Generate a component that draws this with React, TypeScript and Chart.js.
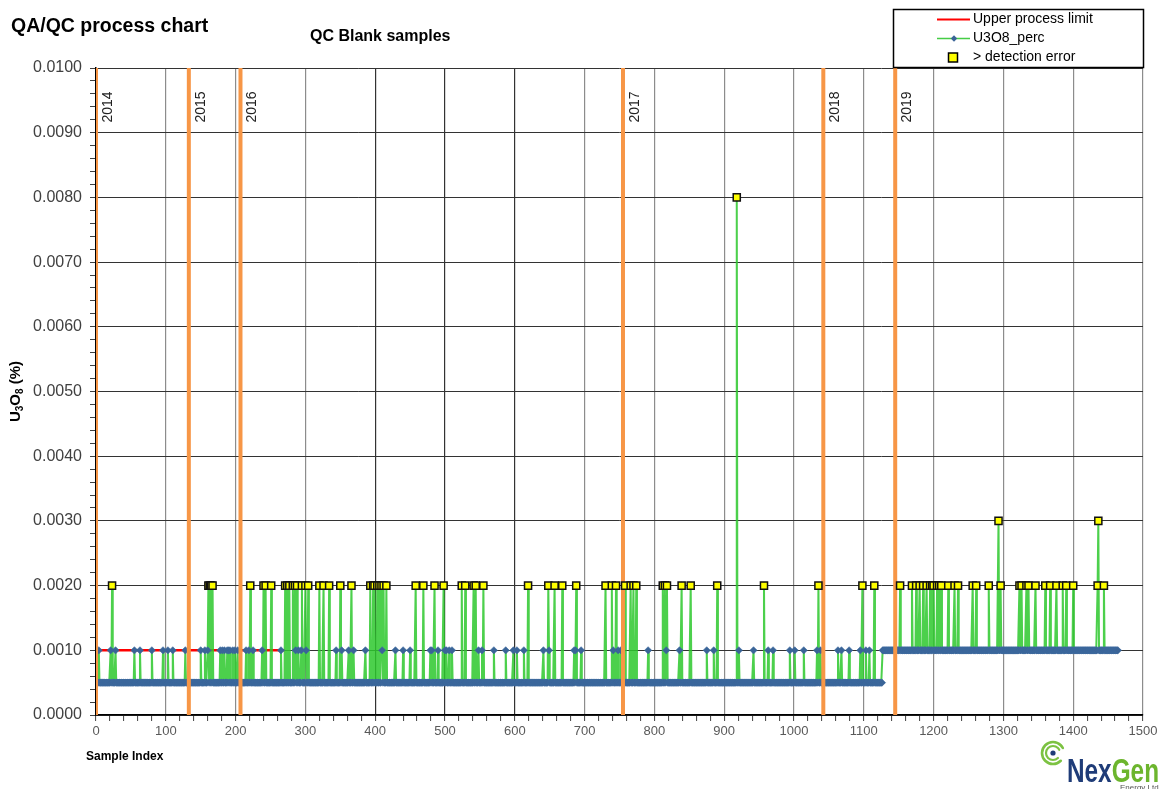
import React, { useEffect, useRef } from 'react';
import { Chart, registerables } from 'chart.js';

Chart.register(...registerables);

// ---------- data ----------
const sampleCount = 1465;
const baselineStartIdx = [0, 1127];
const baselineValues = [0.0005, 0.001];

const idxAt0010 = [
  4, 21, 28, 55, 63, 80, 96, 103, 110, 128, 150, 156, 160, 165, 178, 181, 184, 188, 190, 192, 196, 199, 203,
  215, 219, 225, 238, 265, 277, 286, 290, 294, 301, 344, 352, 362, 369, 386, 410, 429, 440, 450, 479, 481,
  490, 500, 502, 506, 510, 544, 548, 553, 570, 587, 598, 603, 613, 641, 649, 685, 687, 695, 741, 748, 752,
  791, 817, 836, 875, 885, 921, 942, 963, 970, 994, 1001, 1014, 1033, 1038, 1063, 1068, 1079, 1095, 1103, 1108,
];

const idxAt0020 = [
  23, 161, 163, 165, 167, 221, 240, 243, 251, 271, 274, 277, 282, 285, 288, 295, 300, 304, 320, 326, 334, 350,
  366, 393, 397, 399, 403, 406, 409, 412, 416, 458, 469, 485, 498, 524, 529, 541, 544, 555, 619, 648, 657,
  668, 688, 730, 739, 745, 758, 766, 770, 774, 812, 815, 818, 839, 852, 890, 957, 1035, 1098, 1115, 1152,
  1169, 1175, 1180, 1185, 1190, 1195, 1198, 1200, 1205, 1208, 1211, 1221, 1230, 1235, 1256, 1261, 1279, 1296,
  1323, 1326, 1333, 1336, 1346, 1360, 1367, 1376, 1385, 1390, 1400, 1435, 1444,
];
const idxAt0030 = [1293, 1436];
const idxAt0080 = [918];

const limitValue = 0.001;
const limitRange = [2, 270];

const yearLabels = ['2014', '2015', '2016', '2017', '2018', '2019'];
const yearStartIdx = [0, 133, 207, 755, 1042, 1145];

const xMin = 0;
const xMax = 1500;
const yMin = 0;
const yMax = 0.01;

// ---------- build series ----------
function buildSeries() {
  const vals: number[] = [];
  for (let i = 0; i < sampleCount; i++) {
    let b = baselineValues[0];
    for (let k = 0; k < baselineStartIdx.length; k++) if (i >= baselineStartIdx[k]) b = baselineValues[k];
    vals.push(b);
  }
  idxAt0010.forEach((i) => (vals[i] = 0.001));
  idxAt0020.forEach((i) => (vals[i] = 0.002));
  idxAt0030.forEach((i) => (vals[i] = 0.003));
  idxAt0080.forEach((i) => (vals[i] = 0.008));
  return vals.map((y, x) => ({ x, y }));
}

const FONT = '"Liberation Sans", Arial, sans-serif';

const decorPlugin = {
  id: 'decor',
  afterDraw(chart: any) {
    const ctx = chart.ctx as CanvasRenderingContext2D;
    const xs = chart.scales.x;
    const area = chart.chartArea;
    ctx.save();

    // titles
    ctx.fillStyle = '#000';
    ctx.textAlign = 'left';
    ctx.textBaseline = 'alphabetic';
    ctx.font = `bold 19.5px ${FONT}`;
    ctx.fillText('QA/QC process chart', 11, 31.5);
    ctx.font = `bold 16px ${FONT}`;
    ctx.fillText('QC Blank samples', 310, 41);

    // x title
    ctx.font = `bold 12px ${FONT}`;
    ctx.fillText('Sample Index', 86, 760);

    // y title with subscripts (rotated)
    ctx.save();
    ctx.translate(20, (area.top + area.bottom) / 2);
    ctx.rotate(-Math.PI / 2);
    const parts: [string, boolean][] = [['U', false], ['3', true], ['O', false], ['8', true], [' (%)', false]];
    const big = `bold 15px ${FONT}`;
    const small = `bold 10px ${FONT}`;
    let total = 0;
    parts.forEach(([t, s]) => {
      ctx.font = s ? small : big;
      total += ctx.measureText(t).width;
    });
    let px = -total / 2;
    parts.forEach(([t, s]) => {
      ctx.font = s ? small : big;
      ctx.fillText(t, px, s ? 3 : 0);
      px += ctx.measureText(t).width;
    });
    ctx.restore();

    // year labels
    ctx.font = `14px ${FONT}`;
    ctx.fillStyle = '#222';
    yearStartIdx.forEach((v, i) => {
      const x = xs.getPixelForValue(v);
      ctx.save();
      ctx.translate(x + 12, 107);
      ctx.rotate(-Math.PI / 2);
      ctx.textAlign = 'center';
      ctx.textBaseline = 'middle';
      ctx.fillText(yearLabels[i], 0, 0);
      ctx.restore();
    });

    // legend
    const lx = 893.5, ly = 9.5, lw = 250, lh = 58;
    ctx.fillStyle = '#fff';
    ctx.fillRect(lx, ly, lw, lh);
    ctx.strokeStyle = '#000';
    ctx.lineWidth = 1.5;
    ctx.strokeRect(lx, ly, lw, lh);
    const rows = [19.5, 38.5, 57.5];
    ctx.strokeStyle = '#ff0000';
    ctx.lineWidth = 2;
    ctx.beginPath();
    ctx.moveTo(937, rows[0]);
    ctx.lineTo(970, rows[0]);
    ctx.stroke();
    ctx.strokeStyle = 'rgba(50,200,50,0.9)';
    ctx.lineWidth = 1.5;
    ctx.beginPath();
    ctx.moveTo(937, rows[1]);
    ctx.lineTo(970, rows[1]);
    ctx.stroke();
    ctx.fillStyle = '#3a6497';
    ctx.beginPath();
    ctx.moveTo(954, rows[1] - 3.2);
    ctx.lineTo(957.2, rows[1]);
    ctx.lineTo(954, rows[1] + 3.2);
    ctx.lineTo(950.8, rows[1]);
    ctx.closePath();
    ctx.fill();
    ctx.fillStyle = '#ffff00';
    ctx.fillRect(948.5, rows[2] - 4.5, 9, 9);
    ctx.strokeStyle = '#000';
    ctx.lineWidth = 1.5;
    ctx.strokeRect(948.5, rows[2] - 4.5, 9, 9);
    ctx.fillStyle = '#000';
    ctx.font = `14px ${FONT}`;
    ctx.textAlign = 'left';
    ctx.textBaseline = 'middle';
    ctx.fillText('Upper process limit', 973, rows[0]);
    ctx.fillText('U3O8_perc', 973, rows[1]);
    ctx.fillText('> detection error', 973, rows[2] - 0.5);

    // logo
    ctx.strokeStyle = '#7cc242';
    ctx.lineCap = 'round';
    const cx = 1053, cy = 753;
    [[11, 2.6], [7, 2.2]].forEach(([r, w]) => {
      ctx.lineWidth = w;
      ctx.beginPath();
      ctx.arc(cx, cy, r, 0.25 * Math.PI, 1.85 * Math.PI);
      ctx.stroke();
    });
    ctx.fillStyle = '#1f3c78';
    ctx.beginPath();
    ctx.arc(cx, cy, 2.6, 0, Math.PI * 2);
    ctx.fill();
    ctx.textBaseline = 'alphabetic';
    ctx.font = `bold 34px ${FONT}`;
    const wNex = ctx.measureText('Nex').width;
    const wGen = ctx.measureText('Gen').width;
    const sc = 92 / (wNex + wGen);
    ctx.save();
    ctx.translate(1067, 781.5);
    ctx.scale(sc, 1);
    ctx.fillStyle = '#1f3c78';
    ctx.fillText('Nex', 0, 0);
    ctx.fillStyle = '#6cb52d';
    ctx.fillText('Gen', wNex, 0);
    ctx.restore();
    ctx.fillStyle = '#555';
    ctx.font = `8px ${FONT}`;
    ctx.fillText('Energy Ltd.', 1120, 790);

    ctx.restore();
  },
};

export default function App() {
  const canvasRef = useRef<HTMLCanvasElement | null>(null);

  useEffect(() => {
    const canvas = canvasRef.current;
    if (!canvas) return;
    const series = buildSeries();
    const flagged = series.filter((p) => p.y >= 0.002);

    const yearDatasets = yearStartIdx.map((v, i) => ({
      label: 'year ' + yearLabels[i],
      data: [
        { x: v, y: yMin },
        { x: v, y: yMax },
      ],
      showLine: true,
      borderColor: '#f79646',
      borderWidth: 4,
      pointRadius: 0,
      order: 1,
    }));

    const chart = new Chart(canvas, {
      type: 'scatter',
      data: {
        datasets: [
          {
            label: '> detection error',
            data: flagged,
            showLine: false,
            pointStyle: 'rect',
            pointRadius: 5,
            backgroundColor: '#ffff00',
            borderColor: '#111',
            borderWidth: 1.5,
            order: 0,
          },
          ...yearDatasets,
          {
            label: 'U3O8_perc',
            data: series,
            showLine: true,
            borderColor: 'rgba(45,200,45,0.85)',
            borderWidth: 2,
            pointStyle: 'rectRot',
            pointRadius: 3.6,
            pointBackgroundColor: '#3a6497',
            pointBorderColor: '#3d6a9f',
            pointBorderWidth: 0.6,
            order: 2,
          },
          {
            label: 'Upper process limit',
            data: [
              { x: limitRange[0], y: limitValue },
              { x: limitRange[1], y: limitValue },
            ],
            showLine: true,
            borderColor: '#ff0000',
            borderWidth: 2.5,
            pointRadius: 0,
            order: 3,
          },
        ] as any,
      },
      options: {
        animation: false,
        responsive: false,
        devicePixelRatio: 1,
        events: [],
        layout: { padding: { top: 68, right: 18, left: 0, bottom: 0 } },
        plugins: {
          legend: { display: false },
          title: { display: false },
          tooltip: { enabled: false },
        },
        scales: {
          x: {
            type: 'linear',
            min: xMin,
            max: xMax,
            ticks: {
              stepSize: 20,
              autoSkip: false,
              maxTicksLimit: 200,
              maxRotation: 0,
              color: '#595959',
              font: { size: 13, family: FONT },
              padding: 3,
              callback: (v: any) => (Math.round(v) % 100 === 0 ? String(Math.round(v)) : ''),
            },
            grid: {
              color: (c: any) => {
                const v = c.tick ? Math.round(c.tick.value) : -1;
                if (v % 100 !== 0) return 'rgba(0,0,0,0)';
                return v >= 400 && v <= 600 ? '#333' : '#8c8c8c';
              },
              lineWidth: 1.2,
              tickColor: '#404040',
              tickLength: 6,
              tickWidth: 1,
            },
            border: { color: '#000', width: 1.5 },
            afterFit: (s: any) => {
              s.height = 74;
            },
          },
          y: {
            type: 'linear',
            min: yMin,
            max: yMax,
            ticks: {
              stepSize: 0.0002,
              autoSkip: false,
              maxTicksLimit: 200,
              color: '#404040',
              font: { size: 16, family: FONT },
              padding: 8,
              callback: (v: any, i: number) => (i % 5 === 0 ? Number(v).toFixed(4) : ''),
            },
            grid: {
              color: (c: any) => (c.index % 5 === 0 ? '#333' : 'rgba(0,0,0,0)'),
              lineWidth: 1,
              tickColor: '#404040',
              tickLength: 6,
              tickWidth: 1,
            },
            border: { color: '#000', width: 1.5 },
            afterFit: (s: any) => {
              s.width = 96;
            },
          },
        },
      } as any,
      plugins: [decorPlugin],
    });
    return () => chart.destroy();
  }, []);

  return (
    <div style={{ position: 'absolute', left: 0, top: 0, width: 1161, height: 789, background: '#fff' }}>
      <canvas ref={canvasRef} width={1161} height={789} style={{ display: 'block' }} />
    </div>
  );
}
